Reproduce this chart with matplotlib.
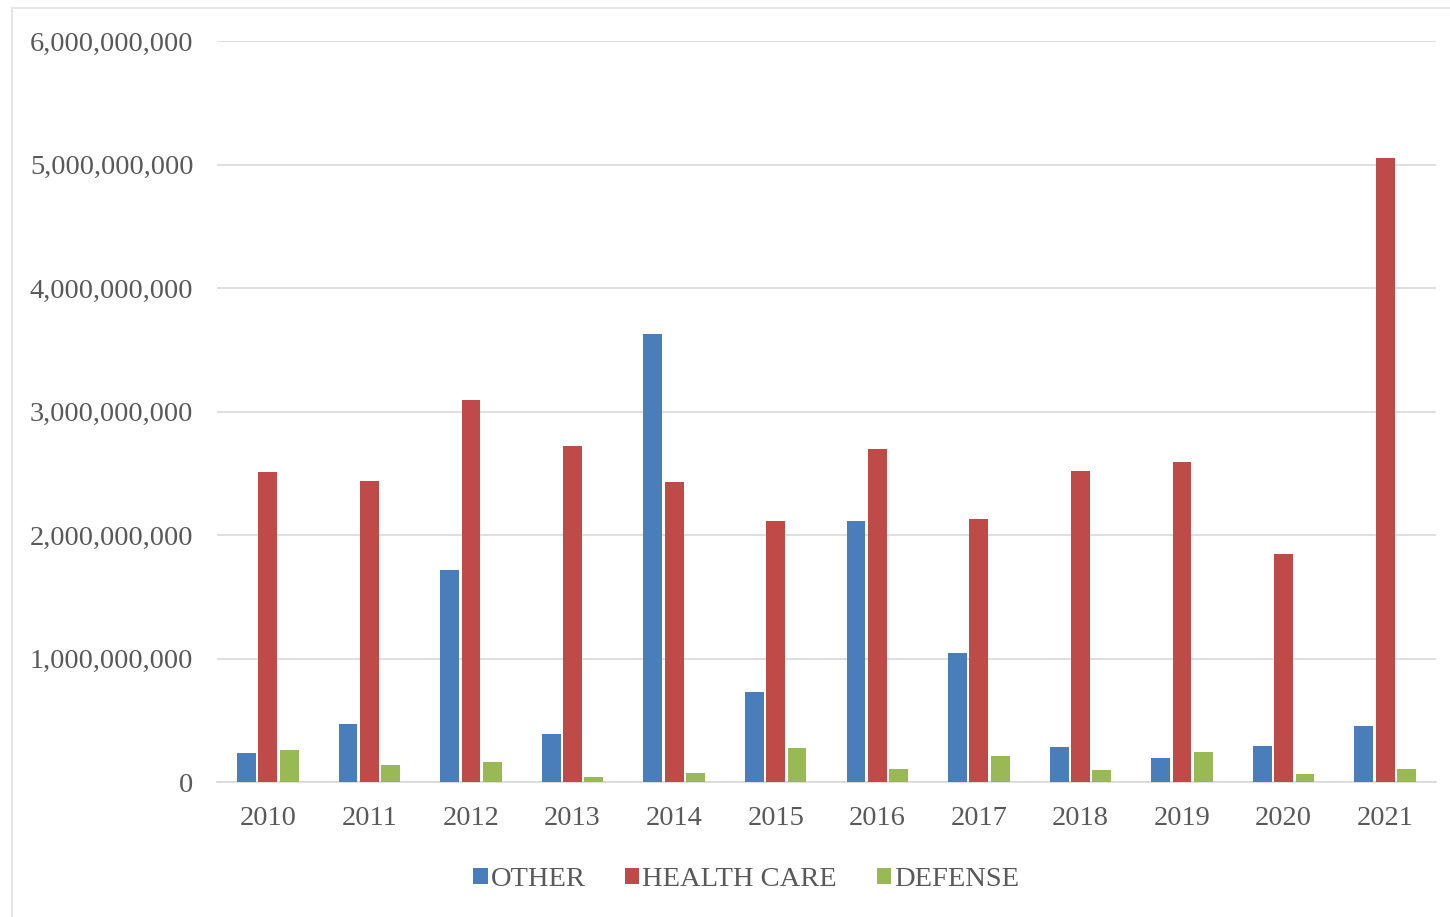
import numpy as np
import matplotlib
from matplotlib import pyplot as plt
from matplotlib.ticker import FuncFormatter
from matplotlib.patches import Rectangle

matplotlib.rcParams.update({'font.size': 20.5, 'font.family': ['Liberation Serif', 'DejaVu Serif']})

years = ['2010', '2011', '2012', '2013', '2014', '2015', '2016', '2017', '2018', '2019', '2020', '2021']
other = [0.237e9, 0.47e9, 1.72e9, 0.386e9, 3.63e9, 0.73e9, 2.11e9, 1.045e9, 0.28e9, 0.194e9, 0.289e9, 0.453e9]
health_care = [2.51e9, 2.44e9, 3.09e9, 2.72e9, 2.43e9, 2.11e9, 2.70e9, 2.13e9, 2.52e9, 2.59e9, 1.85e9, 5.05e9]
defense = [0.257e9, 0.135e9, 0.16e9, 0.043e9, 0.07e9, 0.273e9, 0.108e9, 0.21e9, 0.1e9, 0.243e9, 0.067e9, 0.108e9]

fig = plt.figure(figsize=(14.5, 9.17), dpi=100)
ax = fig.add_axes([217/1450, 135/917, 1219/1450, 741/917])

x = np.arange(len(years))
w = 0.185
step = 0.21
ax.bar(x - step, other, w, color='#4A7EBB', label='OTHER', zorder=3)
ax.bar(x, health_care, w, color='#BE4B48', label='HEALTH CARE', zorder=3)
ax.bar(x + step, defense, w, color='#98B954', label='DEFENSE', zorder=3)

ax.set_xlim(-0.5, len(years) - 0.5)
ax.set_ylim(0, 6e9)
ax.set_yticks(np.arange(0, 6.1e9, 1e9))
ax.yaxis.set_major_formatter(FuncFormatter(lambda v, p: f'{int(v):,}'))
ax.set_xticks(x)
ax.set_xticklabels(years)
ax.grid(axis='y', color='#D9D9D9', linewidth=1.2, zorder=0)
for s in ['top', 'right', 'left']:
    ax.spines[s].set_visible(False)
ax.spines['bottom'].set_color('#D9D9D9')
ax.spines['bottom'].set_linewidth(1.2)
ax.tick_params(axis='both', length=0, colors='#595959')
ax.tick_params(axis='y', pad=17)
ax.tick_params(axis='x', pad=17)

leg = ax.legend(loc='upper center', bbox_to_anchor=(0.434, -0.08), ncol=3, frameon=False,
                handlelength=0.5, handleheight=0.5, handletextpad=0.1, columnspacing=1.4,
                labelcolor='#595959')

fig.patches.append(Rectangle((12/1450, -0.01), 1.0, 1 - 8/917 + 0.01, transform=fig.transFigure,
                             fill=False, edgecolor='#E6E6E6', linewidth=1.5))

plt.savefig('out.png')
